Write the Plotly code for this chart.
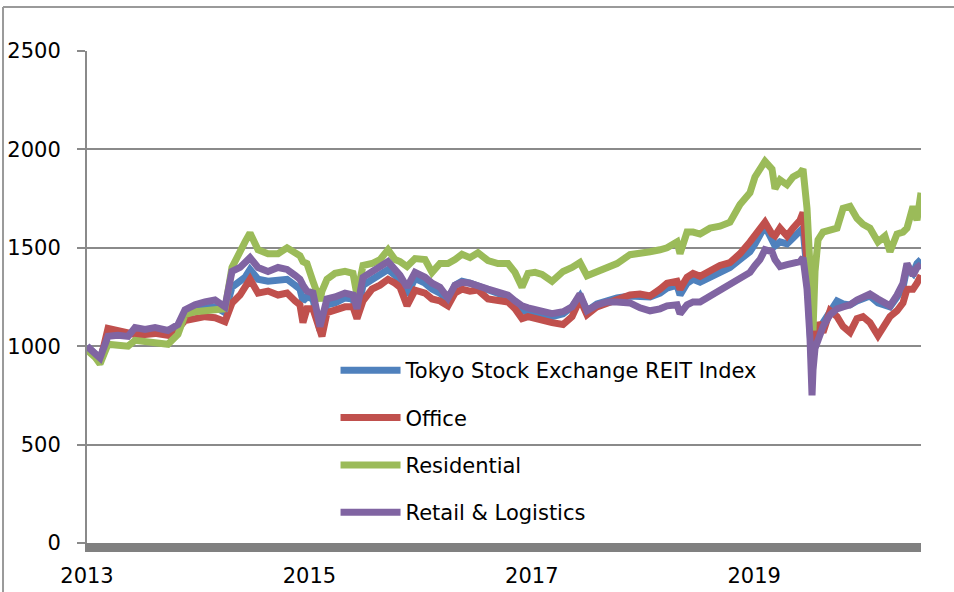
import plotly.graph_objects as go

# decimal-year positions of the sampled observations
dates = [
    2013.000, 2013.072, 2013.117, 2013.189, 2013.279, 2013.369, 2013.432, 2013.522, 2013.612, 2013.728,
    2013.818, 2013.881, 2013.971, 2014.061, 2014.151, 2014.241, 2014.304, 2014.376, 2014.421, 2014.466,
    2014.538, 2014.628, 2014.718, 2014.799, 2014.871, 2014.915, 2014.942, 2014.978, 2015.032, 2015.095,
    2015.113, 2015.158, 2015.230, 2015.320, 2015.392, 2015.428, 2015.482, 2015.563, 2015.635, 2015.707,
    2015.770, 2015.815, 2015.878, 2015.950, 2016.040, 2016.103, 2016.174, 2016.246, 2016.309, 2016.372,
    2016.444, 2016.516, 2016.606, 2016.696, 2016.786, 2016.849, 2016.912, 2016.966, 2017.029, 2017.092,
    2017.182, 2017.281, 2017.362, 2017.433, 2017.496, 2017.586, 2017.676, 2017.766, 2017.883, 2017.973,
    2018.063, 2018.153, 2018.216, 2018.306, 2018.333, 2018.396, 2018.450, 2018.513, 2018.603, 2018.692,
    2018.782, 2018.872, 2018.962, 2019.007, 2019.052, 2019.097, 2019.160, 2019.187, 2019.232, 2019.295,
    2019.349, 2019.412, 2019.439, 2019.475, 2019.502, 2019.520, 2019.529, 2019.547, 2019.574, 2019.619,
    2019.682, 2019.745, 2019.799, 2019.862, 2019.924, 2019.978, 2020.041, 2020.113, 2020.176, 2020.221,
    2020.284, 2020.338, 2020.374, 2020.428, 2020.464, 2020.500,
]

tse_reit = [
    1000, 960, 935, 1060, 1065, 1060, 1075, 1075, 1080, 1070,
    1100, 1160, 1180, 1195, 1200, 1170, 1300, 1330, 1350, 1390,
    1340, 1330, 1340, 1340, 1310, 1290, 1230, 1250, 1240, 1080,
    1110, 1210, 1220, 1245, 1240, 1160, 1310, 1340, 1360, 1390,
    1360, 1330, 1260, 1345, 1320, 1290, 1270, 1230, 1310, 1330,
    1320, 1305, 1280, 1270, 1250, 1220, 1180, 1175, 1170, 1165,
    1150, 1165, 1200, 1255, 1180, 1215, 1230, 1245, 1255, 1250,
    1250, 1270, 1295, 1310, 1260, 1320, 1340, 1325, 1350, 1375,
    1400, 1440, 1480, 1520, 1560, 1610, 1540, 1510, 1530, 1520,
    1550, 1580, 1600, 1380, 1120, 880, 960, 1010, 1060, 1120,
    1180, 1230, 1215, 1210, 1230, 1240, 1255, 1220, 1210, 1200,
    1250, 1300, 1400, 1370, 1420, 1440,
]

office = [
    990, 950, 920, 1090, 1080, 1075, 1060, 1060, 1065, 1055,
    1090, 1130, 1140, 1150, 1145, 1125, 1220, 1260, 1300, 1340,
    1270, 1280, 1260, 1270, 1230, 1210, 1120, 1190, 1190, 1060,
    1050, 1170, 1180, 1200, 1200, 1140, 1230, 1290, 1310, 1340,
    1320, 1300, 1206, 1285, 1270, 1240, 1230, 1205, 1270, 1290,
    1280, 1285, 1240, 1230, 1225, 1190, 1140, 1150, 1140, 1130,
    1120, 1110, 1150, 1240, 1160, 1200, 1220, 1240, 1260, 1265,
    1255, 1290, 1320, 1330, 1290, 1350, 1370, 1355, 1380, 1410,
    1425, 1470, 1530, 1560, 1600, 1630, 1570, 1560, 1600, 1560,
    1600, 1640, 1680, 1380, 1150, 1080, 1040, 1040, 1120, 1070,
    1180, 1150, 1100, 1070, 1140, 1150, 1120, 1054, 1120, 1150,
    1180, 1220, 1290, 1290, 1320, 1360,
]

residential = [
    980, 945, 910, 1010, 1005, 1000, 1030, 1025, 1015, 1010,
    1060, 1160, 1175, 1180, 1180, 1190, 1400, 1490, 1530, 1575,
    1490, 1470, 1470, 1500, 1480, 1460, 1430, 1420, 1330, 1230,
    1280, 1340, 1370, 1380, 1370, 1260, 1410, 1420, 1440, 1490,
    1440, 1430, 1405, 1445, 1440, 1375, 1420, 1420, 1440, 1467,
    1450, 1475, 1435, 1420, 1420, 1375, 1300, 1370, 1375, 1365,
    1330, 1380, 1400, 1425, 1358, 1380, 1400, 1420, 1465, 1470,
    1480, 1490, 1500, 1530, 1470, 1580, 1580, 1570, 1600, 1610,
    1630, 1720, 1780, 1860, 1900, 1940, 1900, 1800, 1845, 1820,
    1860, 1880, 1900, 1700, 1400, 1200, 1080, 1380, 1540, 1580,
    1590, 1600, 1700, 1710, 1650, 1620, 1600, 1530, 1560, 1480,
    1570, 1580, 1600, 1710, 1640, 1780,
]

retail_logistics = [
    1000, 960, 940, 1050, 1055, 1050, 1095, 1085, 1095, 1080,
    1110, 1185, 1210, 1225, 1235, 1200, 1380, 1400, 1420, 1450,
    1400, 1380, 1400, 1390, 1360, 1340, 1310, 1280, 1270, 1100,
    1140, 1240, 1250, 1270, 1260, 1190, 1350, 1380, 1400, 1430,
    1390, 1360, 1300, 1375, 1350, 1320, 1300, 1245, 1310, 1325,
    1320, 1310, 1290, 1275, 1260, 1230, 1205, 1195, 1185, 1180,
    1165, 1175, 1200, 1265, 1180, 1210, 1225, 1225, 1220, 1195,
    1180, 1190, 1205, 1210, 1165, 1210, 1225, 1225, 1255, 1275,
    1310, 1340, 1375, 1410, 1440, 1490, 1480, 1440, 1405, 1415,
    1420, 1430, 1450, 1290, 1040, 750, 880, 990, 1030, 1100,
    1160, 1190, 1200, 1210, 1235, 1245, 1265, 1240, 1225, 1205,
    1260, 1320, 1420, 1360, 1400, 1415,
]

series_names = ["Tokyo Stock Exchange REIT Index", "Office", "Residential", "Retail & Logistics"]
series_values = [tse_reit, office, residential, retail_logistics]
series_colors = ["#4F81BD", "#C0504D", "#9BBB59", "#8064A2"]

x_tick_vals = [2013, 2015, 2017, 2019]
x_tick_text = ["2013", "2015", "2017", "2019"]
y_tick_vals = [0, 500, 1000, 1500, 2000, 2500]

FONT = "DejaVu Sans"
GRID = "#8a8a8a"

fig = go.Figure()
for i, (name, vals, col) in enumerate(zip(series_names, series_values, series_colors)):
    fig.add_trace(go.Scatter(
        x=dates, y=vals, mode="lines", name=name, legendgroup=f"g{i}",
        line=dict(color=col, width=7),
    ))

fig.update_layout(
    width=954, height=592,
    margin=dict(l=87, r=33, t=51, b=49, autoexpand=False),
    paper_bgcolor="white", plot_bgcolor="white",
    font=dict(family=FONT, size=21, color="black"),
    showlegend=True,
    legend=dict(
        x=0.298, y=0.392, xanchor="left", yanchor="top",
        bgcolor="rgba(0,0,0,0)", itemwidth=60, tracegroupgap=17,
        font=dict(family=FONT, size=21, color="black"),
    ),
    xaxis=dict(
        range=[2013, 2020.5], tickmode="array", tickvals=x_tick_vals, ticktext=x_tick_text,
        showgrid=False, zeroline=False, showline=True, linecolor="#808080", linewidth=9,
        ticks="", ticklabelstandoff=6, automargin=False,
    ),
    yaxis=dict(
        range=[0, 2500], tickmode="array", tickvals=y_tick_vals,
        showgrid=True, gridcolor=GRID, gridwidth=2, zeroline=False,
        showline=True, linecolor=GRID, linewidth=2,
        ticks="outside", ticklen=8, tickcolor=GRID, tickwidth=2, ticklabelstandoff=12,
        automargin=False,
    ),
    shapes=[
        dict(type="line", xref="paper", yref="paper", x0=-0.1007, x1=-0.1007, y0=1.0894, y1=-0.2,
             line=dict(color="#9a9a9a", width=2)),
        dict(type="line", xref="paper", yref="paper", x0=-0.1007, x1=1.2, y0=1.0894, y1=1.0894,
             line=dict(color="#9a9a9a", width=2)),
    ],
)

fig.write_html("out.html", config={"displayModeBar": False},
               post_script="document.body.style.margin='0';")
